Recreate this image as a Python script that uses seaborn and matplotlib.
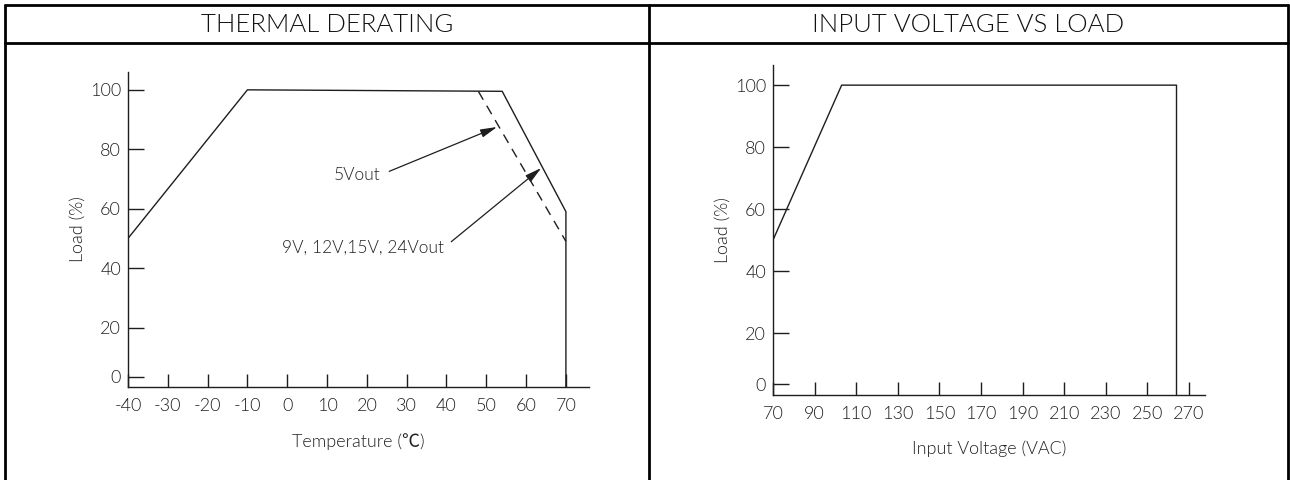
import numpy as np
import pandas as pd

import matplotlib.pyplot as plt
import seaborn as sns
from matplotlib.lines import Line2D


# thermal derating (solid = 9V/12V/15V/24V, dashed = 5V)
temp_solid = [-40, -10, 54, 70, 70]
load_solid = [50, 100, 99.5, 59, 0]
temp_dashed = [48, 70]
load_dashed = [99.5, 49]

temp_ticks = [-40, -30, -20, -10, 0, 10, 20, 30, 40, 50, 60, 70]
load_ticks = [20, 40, 60, 80, 100]

# input voltage vs load
vin = [70, 103, 264, 264]
vin_load = [50, 100, 100, 0]
vin_ticks = [70, 90, 110, 130, 150, 170, 190, 210, 230, 250, 270]

titles = ["THERMAL DERATING", "INPUT VOLTAGE VS LOAD"]

W, H = 1290, 480
sns.set_style("white")
plt.rcParams['font.family'] = ['Lato', 'Noto Sans CJK SC', 'DejaVu Sans']
plt.rcParams['font.weight'] = 300
plt.rcParams['axes.labelweight'] = 300

LC = '#1e1e1e'
TC = '#222222'


def px(x, y):
    return (x / W, 1 - y / H)


def rect(x0, y0, x1, y1):
    l, b = x0 / W, 1 - y1 / H
    return [l, b, (x1 - x0) / W, (y1 - y0) / H]


def style_axes(ax, xticks, yticks):
    for s in ['top', 'right']:
        ax.spines[s].set_visible(False)
    for s in ['left', 'bottom']:
        ax.spines[s].set_color(LC)
        ax.spines[s].set_linewidth(1.0)
    ax.set_xticks(xticks)
    ax.set_xticklabels([str(t) for t in xticks])
    ax.set_yticks([3.5] + yticks)
    ax.set_yticklabels(["0"] + [str(t) for t in yticks])
    ax.yaxis.get_major_ticks()[0].tick1line.set_visible(False)
    ax.tick_params(axis='x', direction='in', length=9.5, width=1.0, color=LC,
                   labelsize=13, labelcolor=TC, pad=8, bottom=True)
    ax.tick_params(axis='y', direction='in', length=11.5, width=1.0, color=LC,
                   labelsize=13, labelcolor=TC, pad=5, left=True)
    ax.grid(False)


fig = plt.figure(figsize=(W / 100, H / 100), dpi=100)

# ---- left: thermal derating
ax1 = fig.add_axes(rect(128, 72, 589, 387))
df_s = pd.DataFrame({"t": temp_solid, "load": load_solid})
df_d = pd.DataFrame({"t": temp_dashed, "load": load_dashed})
sns.lineplot(data=df_s, x="t", y="load", sort=False, estimator=None,
             color=LC, linewidth=1.0, ax=ax1)
sns.lineplot(data=df_d, x="t", y="load", sort=False, estimator=None,
             color=LC, linewidth=1.0, ax=ax1)
ax1.lines[-1].set_dashes([7, 5])
ax1.set_xlim(-40, 75.8)
ax1.set_ylim(0, 106)
style_axes(ax1, temp_ticks, load_ticks)
ax1.set_xlabel("Temperature (℃)", fontsize=13, color=TC, labelpad=14)
ax1.set_ylabel("Load (%)", fontsize=13, color=TC, labelpad=3)

arrow = dict(arrowstyle="-|>,head_length=0.8,head_width=0.2",
             color=LC, lw=0.9, shrinkA=4, shrinkB=0, relpos=(1, 0.5))
ax1.annotate("5Vout", xy=(52.7, 87.5), xytext=(23.5, 71.4),
             ha='right', va='center', fontsize=12.5, color=TC,
             arrowprops=arrow)
ax1.annotate("9V, 12V,15V, 24Vout", xy=(63.8, 73.7), xytext=(39.3, 46.8),
             ha='right', va='center', fontsize=12.5, color=TC,
             arrowprops=arrow)

# ---- right: input voltage vs load
ax2 = fig.add_axes(rect(773, 65, 1205, 395))
df_v = pd.DataFrame({"v": vin, "load": vin_load})
sns.lineplot(data=df_v, x="v", y="load", sort=False, estimator=None,
             color=LC, linewidth=1.0, ax=ax2)
ax2.set_xlim(70, 277.7)
ax2.set_ylim(0, 106.5)
style_axes(ax2, vin_ticks, load_ticks)
ax2.set_xlabel("Input Voltage (VAC)", fontsize=13, color=TC, labelpad=13)
ax2.set_ylabel("Load (%)", fontsize=13, color=TC, labelpad=3)

# ---- table frame
frame = [((5, 5), (1288, 5)), ((5, 43), (1288, 43)),
         ((5, 5), (5, 480)), ((649, 5), (649, 480)), ((1288, 5), (1288, 480))]
for (a, b) in frame:
    (x0, y0), (x1, y1) = px(*a), px(*b)
    fig.add_artist(Line2D([x0, x1], [y0, y1], transform=fig.transFigure,
                          color='black', linewidth=2.0))

fig.text(*px(327, 25), titles[0], ha='center', va='center', fontsize=18.5, color='#111111')
fig.text(*px(968, 25), titles[1], ha='center', va='center', fontsize=18.5, color='#111111')

plt.savefig("out.png", dpi=100)
plt.close()
